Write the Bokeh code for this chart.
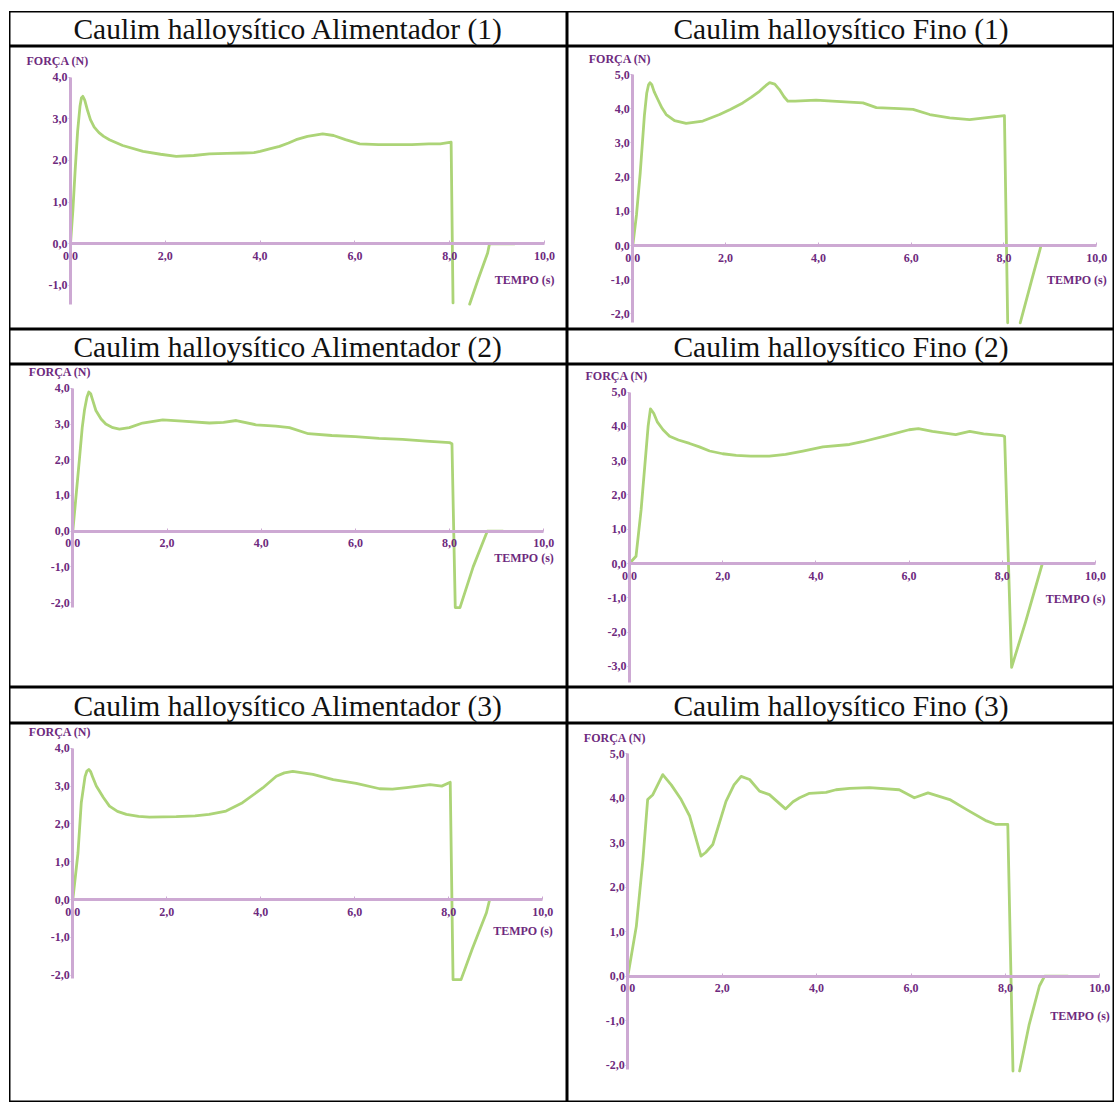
import numpy as np
from bokeh.plotting import figure
from bokeh.layouts import column, row
from bokeh.models import Label, LinearAxis, FixedTicker
from bokeh.embed import file_html
from bokeh.resources import INLINE

nan = np.nan

titles = [
    "Caulim halloysítico Alimentador (1)", "Caulim halloysítico Fino (1)",
    "Caulim halloysítico Alimentador (2)", "Caulim halloysítico Fino (2)",
    "Caulim halloysítico Alimentador (3)", "Caulim halloysítico Fino (3)",
]

x_ticks = [0, 2, 4, 6, 8, 10]
x_tick_labels = ["0,0", "2,0", "4,0", "6,0", "8,0", "10,0"]
y_label = "FORÇA (N)"
x_label = "TEMPO (s)"

# Alimentador (1)
t_a1 = [0, 0.05, 0.1, 0.15, 0.2, 0.23, 0.26, 0.3, 0.36, 0.42, 0.5, 0.6, 0.7, 0.82, 1.1, 1.53, 1.9, 2.23,
        2.6, 2.93, 3.3, 3.64, 3.87, 4.0, 4.2, 4.41, 4.6, 4.76, 5.0, 5.32, 5.55, 5.8, 6.1, 6.5, 6.86, 7.2,
        7.56, 7.8, 8.03, 8.07, nan, 8.42, 8.6, 8.8, 8.84, 9.1, 9.37]
f_a1 = [0, 0.8, 1.8, 2.7, 3.3, 3.5, 3.54, 3.45, 3.2, 2.98, 2.8, 2.67, 2.58, 2.5, 2.36, 2.22, 2.15, 2.1,
        2.12, 2.16, 2.17, 2.18, 2.19, 2.22, 2.28, 2.34, 2.42, 2.5, 2.58, 2.64, 2.6, 2.5, 2.4, 2.38, 2.38,
        2.38, 2.4, 2.4, 2.44, -1.42, nan, -1.45, -0.85, -0.22, 0, 0, 0]
y_ticks_a1 = [-1, 0, 1, 2, 3, 4]

# Fino (1)
t_f1 = [0, 0.08, 0.16, 0.25, 0.3, 0.34, 0.37, 0.41, 0.46, 0.54, 0.63, 0.72, 0.9, 1.15, 1.51, 1.87, 2.1,
        2.37, 2.55, 2.73, 2.87, 2.95, 3.06, 3.16, 3.26, 3.34, 3.5, 3.95, 4.3, 4.67, 4.96, 5.25, 5.75, 6.04,
        6.4, 6.83, 7.26, 7.77, 8.01, 8.08, nan, 8.35, 8.6, 8.8, 9.09]
f_f1 = [0, 0.9, 2.12, 3.8, 4.45, 4.7, 4.76, 4.7, 4.5, 4.27, 4.02, 3.83, 3.65, 3.57, 3.64, 3.83, 3.98,
        4.17, 4.33, 4.51, 4.68, 4.76, 4.72, 4.56, 4.35, 4.22, 4.22, 4.25, 4.22, 4.19, 4.17, 4.03, 4.0, 3.98,
        3.83, 3.73, 3.68, 3.76, 3.8, -2.26, nan, -2.26, -1.0, 0, 0]
y_ticks_f1 = [-2, -1, 0, 1, 2, 3, 4, 5]

# Alimentador (2)
t_a2 = [0, 0.07, 0.14, 0.2, 0.25, 0.3, 0.34, 0.38, 0.42, 0.49, 0.6, 0.7, 0.85, 0.99, 1.2, 1.48, 1.91, 2.33,
        2.9, 3.2, 3.47, 3.89, 4.31, 4.6, 5.0, 5.5, 6.0, 6.5, 7.0, 7.5, 8.0, 8.05, 8.12, 8.22, 8.5, 8.8, 9.13]
f_a2 = [0, 1.0, 2.01, 2.9, 3.41, 3.75, 3.9, 3.85, 3.68, 3.38, 3.14, 3.0, 2.9, 2.86, 2.9, 3.03, 3.12, 3.08,
        3.03, 3.05, 3.1, 2.98, 2.94, 2.9, 2.73, 2.68, 2.65, 2.6, 2.57, 2.52, 2.48, 2.45, -2.14, -2.14, -1.0,
        0, 0]
y_ticks_a2 = [-2, -1, 0, 1, 2, 3, 4]

# Fino (2)
t_f2 = [0, 0.14, 0.25, 0.34, 0.4, 0.45, 0.52, 0.6, 0.72, 0.86, 1.05, 1.29, 1.5, 1.72, 2.0, 2.29, 2.6, 3.0,
        3.35, 3.72, 4.15, 4.72, 5.0, 5.5, 6.0, 6.2, 6.5, 7.0, 7.3, 7.6, 8.0, 8.05, 8.2, 8.5, 8.86, 9.55]
f_f2 = [0, 0.21, 1.57, 3.03, 4.0, 4.51, 4.38, 4.12, 3.9, 3.71, 3.6, 3.5, 3.4, 3.28, 3.2, 3.15, 3.13, 3.13,
        3.18, 3.28, 3.4, 3.47, 3.55, 3.72, 3.9, 3.93, 3.85, 3.76, 3.85, 3.78, 3.73, 3.7, -3.03, -1.7, 0, 0]
y_ticks_f2 = [-3, -2, -1, 0, 1, 2, 3, 4, 5]

# Alimentador (3)
t_a3 = [0, 0.11, 0.18, 0.26, 0.3, 0.34, 0.38, 0.42, 0.5, 0.65, 0.78, 0.95, 1.14, 1.4, 1.63, 2.2, 2.6, 2.9,
        3.26, 3.61, 4.04, 4.33, 4.5, 4.68, 5.11, 5.54, 6.03, 6.53, 6.8, 7.1, 7.6, 7.85, 8.03, 8.09, 8.26,
        8.5, 8.8, 8.87, 9.33]
f_a3 = [0, 1.23, 2.56, 3.25, 3.4, 3.44, 3.38, 3.25, 3.0, 2.7, 2.47, 2.33, 2.25, 2.2, 2.18, 2.19, 2.21, 2.25,
        2.34, 2.56, 2.95, 3.26, 3.35, 3.39, 3.31, 3.17, 3.07, 2.93, 2.92, 2.96, 3.04, 3.0, 3.1, -2.12,
        -2.12, -1.3, -0.35, 0, 0]
y_ticks_a3 = [-2, -1, 0, 1, 2, 3, 4]

# Fino (3)
t_f3 = [0, 0.18, 0.32, 0.42, 0.53, 0.74, 0.92, 1.13, 1.31, 1.55, 1.65, 1.8, 2.08, 2.25, 2.4, 2.58, 2.79,
        3.0, 3.34, 3.5, 3.64, 3.85, 4.2, 4.41, 4.7, 5.12, 5.75, 6.07, 6.36, 6.82, 7.17, 7.6, 7.8, 8.05, 8.16,
        nan, 8.3, 8.5, 8.72, 8.83, 9.32]
f_f3 = [0, 1.12, 2.62, 3.97, 4.08, 4.53, 4.3, 3.97, 3.6, 2.7, 2.78, 2.96, 3.93, 4.3, 4.49, 4.42, 4.16,
        4.08, 3.76, 3.92, 4.01, 4.11, 4.13, 4.19, 4.22, 4.24, 4.19, 4.01, 4.12, 3.97, 3.75, 3.49, 3.41, 3.41,
        -2.13, nan, -2.13, -1.1, -0.22, 0, 0]
y_ticks_f3 = [-2, -1, 0, 1, 2, 3, 4, 5]

# layout / style configuration
LINE = "#acd477"
AXIS = "#cda9d3"
TXT = "#6e2a7e"
SERIF = "Liberation Serif"

panels = [
    dict(t=t_a1, f=f_a1, yt=y_ticks_a1, xr=(-1.287, 10.485), yr=(-2.058, 4.737), yb=(-1.45, 4.0), w=558, h=283, xo=36),
    dict(t=t_f1, f=f_f1, yt=y_ticks_f1, xr=(-1.407, 10.382), yr=(-2.456, 5.819), yb=(-2.25, 5.0), w=547, h=283, xo=34),
    dict(t=t_a2, f=f_a2, yt=y_ticks_a2, xr=(-1.344, 10.503), yr=(-4.379, 4.669), yb=(-2.14, 4.0), w=558, h=323, xo=27),
    dict(t=t_f2, f=f_f2, yt=y_ticks_f2, xr=(-1.33, 10.408), yr=(-3.615, 5.802), yb=(-3.47, 5.0), w=547, h=323, xo=35),
    dict(t=t_a3, f=f_a3, yt=y_ticks_a3, xr=(-1.347, 10.525), yr=(-5.37, 4.656), yb=(-2.1, 4.0), w=558, h=379, xo=31),
    dict(t=t_f3, f=f_f3, yt=y_ticks_f3, xr=(-1.278, 10.311), yr=(-2.838, 5.679), yb=(-2.1, 5.0), w=547, h=379, xo=40),
]
title_heights = [35, 35, 36]


def fmt(v):
    return f"{v:.1f}".replace(".", ",")


def title_fig(text, w, h):
    p = figure(width=w, height=h, x_range=(0, 1), y_range=(0, 1), x_axis_type=None, y_axis_type=None,
               toolbar_location=None, output_backend="svg", min_border=0,
               outline_line_color="black", outline_line_width=2)
    p.add_layout(Label(x=0.5, y=0.5, text=text, text_align="center", text_baseline="middle",
                       text_font=SERIF, text_font_size="29.5px", text_color="#111111"))
    return p


def chart_fig(cfg):
    p = figure(width=cfg["w"], height=cfg["h"], x_range=cfg["xr"], y_range=cfg["yr"],
               x_axis_type=None, y_axis_type=None, toolbar_location=None, output_backend="svg",
               min_border=0, outline_line_color="black", outline_line_width=2,
               background_fill_color="white", border_fill_color="white")
    xa = LinearAxis(fixed_location=0, ticker=FixedTicker(ticks=x_ticks), bounds=(0, 10),
                    major_label_overrides={v: s for v, s in zip(x_ticks, x_tick_labels)},
                    axis_line_color=AXIS, axis_line_width=3, major_tick_line_color=AXIS,
                    major_tick_in=3, major_tick_out=0, minor_tick_line_color=None,
                    major_label_text_font=SERIF, major_label_text_font_size="12px",
                    major_label_text_font_style="bold", major_label_text_color=TXT,
                    major_label_standoff=8)
    ya = LinearAxis(fixed_location=0, ticker=FixedTicker(ticks=cfg["yt"]), bounds=cfg["yb"],
                    major_label_overrides={v: fmt(v) for v in cfg["yt"]},
                    axis_line_color=AXIS, axis_line_width=3, major_tick_line_color=AXIS,
                    major_tick_in=0, major_tick_out=2, minor_tick_line_color=None,
                    major_label_text_font=SERIF, major_label_text_font_size="12px",
                    major_label_text_font_style="bold", major_label_text_color=TXT,
                    major_label_standoff=1)
    p.add_layout(xa, "below")
    p.add_layout(ya, "left")
    p.line(np.array(cfg["t"], dtype=float), np.array(cfg["f"], dtype=float),
           line_color=LINE, line_width=2.8, line_join="round", line_cap="round")
    p.add_layout(Label(x=0, y=cfg["yb"][1], text=y_label, x_offset=-44, y_offset=16,
                       text_baseline="middle", text_font=SERIF, text_font_size="12px",
                       text_font_style="bold", text_color=TXT))
    p.add_layout(Label(x=10, y=0, text=x_label, x_offset=10, y_offset=-cfg["xo"], text_align="right",
                       text_baseline="middle", text_font=SERIF, text_font_size="12px",
                       text_font_style="bold", text_color=TXT))
    return p


rows = []
for r in range(3):
    left, right = panels[2 * r], panels[2 * r + 1]
    rows.append(row(title_fig(titles[2 * r], left["w"], title_heights[r]),
                    title_fig(titles[2 * r + 1], right["w"], title_heights[r])))
    rows.append(row(chart_fig(left), chart_fig(right)))

layout = column(*rows, margin=(11, 0, 0, 9))

open("out.html", "w").write(file_html(layout, INLINE))
